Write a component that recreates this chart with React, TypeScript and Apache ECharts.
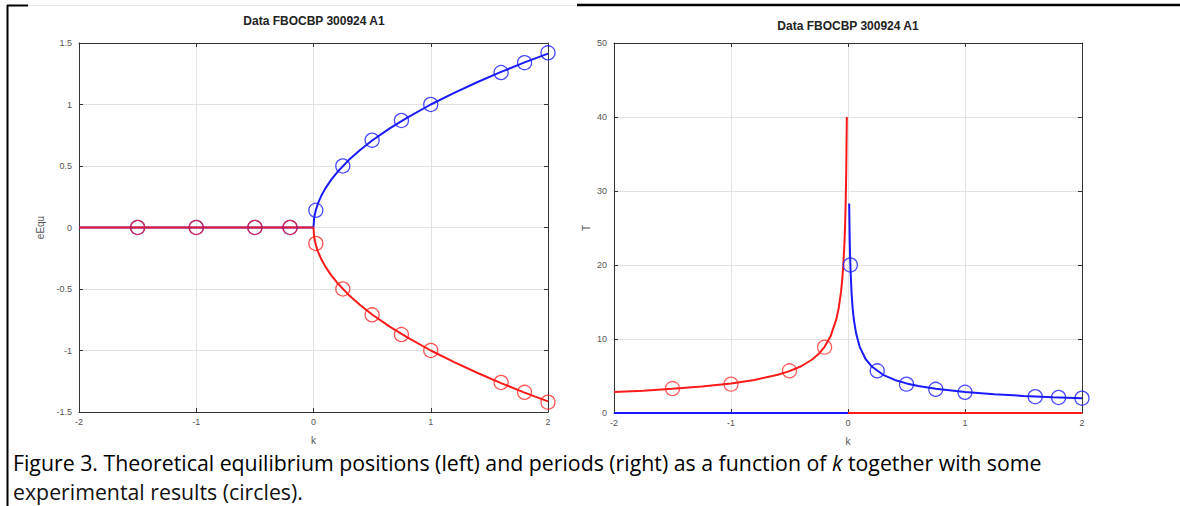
import React, { useEffect, useRef } from "react";
import * as echarts from "echarts";

// Equilibrium positions: theory curves (upper / lower branch for k >= 0)
const eqK = [0, 0.005, 0.01, 0.02, 0.04, 0.07, 0.1, 0.15, 0.2, 0.3, 0.4, 0.5, 0.65, 0.8, 1, 1.2, 1.4, 1.6, 1.8, 2];
const eqUpper = [0, 0.071, 0.1, 0.141, 0.2, 0.265, 0.316, 0.387, 0.447, 0.548, 0.632, 0.707, 0.806, 0.894, 1.0, 1.095, 1.183, 1.265, 1.342, 1.414];
const eqLower = [0, -0.071, -0.1, -0.141, -0.2, -0.265, -0.316, -0.387, -0.447, -0.548, -0.632, -0.707, -0.806, -0.894, -1.0, -1.095, -1.183, -1.265, -1.342, -1.414];
// Zero branches
const zeroNegK = [-2, 0];
const zeroNegVal = [0, 0];
const zeroPosK = [0, 2];
const zeroPosVal = [0, 0];

// Equilibrium positions: measured
const expK = [-1.5, -1, -0.5, -0.2, 0.02, 0.25, 0.5, 0.75, 1, 1.6, 1.8, 2];
const expUpper = [0, 0, 0, 0, 0.14, 0.5, 0.71, 0.87, 1.0, 1.26, 1.34, 1.42];
const expLower = [0, 0, 0, 0, -0.13, -0.5, -0.71, -0.87, -1.0, -1.26, -1.34, -1.42];

// Periods: theory curves
const periodNegK = [-2, -1.75, -1.5, -1.25, -1, -0.8, -0.6, -0.5, -0.4, -0.3, -0.25, -0.2, -0.15, -0.1, -0.08, -0.06, -0.05, -0.04, -0.03, -0.025, -0.02, -0.015, -0.01];
const periodNegT = [2.83, 3.02, 3.27, 3.58, 4.0, 4.47, 5.16, 5.66, 6.32, 7.3, 8.0, 8.94, 10.33, 12.65, 14.14, 16.33, 17.89, 20.0, 23.09, 25.3, 28.28, 32.66, 40.0];
const periodPosK = [0.01, 0.015, 0.02, 0.03, 0.04, 0.05, 0.07, 0.1, 0.15, 0.2, 0.3, 0.4, 0.5, 0.6, 0.75, 1, 1.25, 1.5, 1.75, 2];
const periodPosT = [28.3, 23.1, 20.0, 16.3, 14.1, 12.6, 10.7, 8.94, 7.3, 6.32, 5.16, 4.47, 4.0, 3.65, 3.27, 2.83, 2.53, 2.31, 2.14, 2.0];

// Periods: measured
const expPeriodNegK = [-1.5, -1, -0.5, -0.2];
const expPeriodNegT = [3.3, 3.9, 5.7, 8.9];
const expPeriodPosK = [0.02, 0.25, 0.5, 0.75, 1, 1.6, 1.8, 2];
const expPeriodPosT = [20, 5.7, 3.9, 3.2, 2.8, 2.2, 2.1, 2.0];

const titleText = "Data FBOCBP 300924 A1";
const captionLine1a = "Figure 3. Theoretical equilibrium positions (left) and periods (right) as a function of ";
const captionLine1b = "k";
const captionLine1c = " together with some";
const captionLine2 = "experimental results (circles).";

const RED = "#ff1a1a";
const BLUE = "#1a1aff";
const FONT = "Liberation Sans, Arial, sans-serif";
const CAPTION_FONT = "Open Sans, sans-serif";
const CAPTION_SIZE = 21.3;

const pairs = (xs: number[], ys: number[]) => xs.map((x, i) => [x, ys[i]]);

function lineSeries(xi: number, yi: number, data: number[][], color: string, opacity = 1) {
  return {
    type: "line",
    xAxisIndex: xi,
    yAxisIndex: yi,
    data,
    showSymbol: false,
    symbol: "none",
    clip: false,
    lineStyle: { color, width: 2, opacity },
    z: 3,
  };
}

function circleSeries(xi: number, yi: number, data: number[][], color: string, opacity = 0.8) {
  return {
    type: "scatter",
    xAxisIndex: xi,
    yAxisIndex: yi,
    data,
    symbol: "circle",
    symbolSize: 14,
    clip: false,
    itemStyle: { color: "transparent", borderColor: color, borderWidth: 1.3, opacity },
    z: 4,
  };
}

function xAxes(gridIndex: number) {
  const common = {
    type: "value",
    gridIndex,
    min: -2,
    max: 2,
    interval: 1,
    axisLine: { show: true, onZero: false, lineStyle: { color: "#333", width: 1 } },
    axisTick: { show: true, inside: true, length: 4, lineStyle: { color: "#333" } },
  };
  return [
    {
      ...common,
      position: "bottom",
      name: "k",
      nameLocation: "middle",
      nameGap: 23,
      nameTextStyle: { fontSize: 10, color: "#555", fontFamily: FONT },
      axisLabel: { fontSize: 9, color: "#555", margin: 5, fontFamily: FONT },
      splitLine: { show: true, lineStyle: { color: "#e2e2e2", width: 1 } },
    },
    {
      ...common,
      position: "top",
      axisLabel: { show: false },
      splitLine: { show: false },
    },
  ];
}

function yAxes(gridIndex: number, min: number, max: number, interval: number, name: string, nameGap: number) {
  const common = {
    type: "value",
    gridIndex,
    min,
    max,
    interval,
    axisLine: { show: true, onZero: false, lineStyle: { color: "#333", width: 1 } },
    axisTick: { show: true, inside: true, length: 4, lineStyle: { color: "#333" } },
  };
  return [
    {
      ...common,
      position: "left",
      name,
      nameLocation: "middle",
      nameGap,
      nameRotate: 90,
      nameTextStyle: { fontSize: 10, color: "#555", fontFamily: FONT },
      axisLabel: { fontSize: 9, color: "#555", margin: 7, fontFamily: FONT },
      splitLine: { show: true, lineStyle: { color: "#e2e2e2", width: 1 } },
    },
    {
      ...common,
      position: "right",
      axisLabel: { show: false },
      splitLine: { show: false },
    },
  ];
}

export default function App() {
  const ref = useRef<HTMLDivElement>(null);

  useEffect(() => {
    if (!ref.current) return;
    const chart = echarts.init(ref.current, null, { renderer: "svg" });

    const option = {
      animation: false,
      backgroundColor: "#ffffff",
      grid: [
        { left: 79, right: 632, top: 43, bottom: 94, containLabel: false },
        { left: 614, right: 98, top: 43, bottom: 93, containLabel: false },
      ],
      xAxis: [...xAxes(0), ...xAxes(1)],
      yAxis: [...yAxes(0, -1.5, 1.5, 0.5, "eEqu", 34), ...yAxes(1, 0, 50, 10, "T", 23)],
      series: [
        // left: equilibrium positions
        lineSeries(0, 0, pairs(zeroNegK, zeroNegVal), BLUE),
        lineSeries(0, 0, pairs(eqK, eqUpper), BLUE),
        lineSeries(0, 0, pairs(zeroNegK, zeroNegVal), RED, 0.92),
        lineSeries(0, 0, pairs(eqK, eqLower), RED),
        circleSeries(0, 0, pairs(expK, expUpper), BLUE),
        circleSeries(0, 0, pairs(expK, expLower), RED, 0.75),
        // right: periods
        lineSeries(2, 2, pairs(zeroNegK, zeroNegVal), BLUE),
        lineSeries(2, 2, pairs(periodPosK, periodPosT), BLUE),
        lineSeries(2, 2, pairs(zeroPosK, zeroPosVal), RED),
        lineSeries(2, 2, pairs(periodNegK, periodNegT), RED),
        circleSeries(2, 2, pairs(expPeriodNegK, expPeriodNegT), RED, 0.7),
        circleSeries(2, 2, pairs(expPeriodPosK, expPeriodPosT), BLUE),
      ],
      graphic: [
        // page frame lines
        { type: "line", shape: { x1: 7.5, y1: 5, x2: 7.5, y2: 506 }, style: { stroke: "#000", lineWidth: 2 } },
        { type: "line", shape: { x1: 7, y1: 5.5, x2: 28, y2: 5.5 }, style: { stroke: "#000", lineWidth: 2 } },
        { type: "line", shape: { x1: 28, y1: 5.5, x2: 577, y2: 5.5 }, style: { stroke: "#e6e6e6", lineWidth: 1 } },
        { type: "line", shape: { x1: 577, y1: 5, x2: 1180, y2: 5 }, style: { stroke: "#000", lineWidth: 2.5 } },
        // chart titles
        {
          type: "text",
          x: 314,
          y: 21,
          style: { text: titleText, textAlign: "center", textVerticalAlign: "middle", font: `bold 12px ${FONT}`, fill: "#222" },
        },
        {
          type: "text",
          x: 848,
          y: 26,
          style: { text: titleText, textAlign: "center", textVerticalAlign: "middle", font: `bold 12px ${FONT}`, fill: "#222" },
        },
        // caption, first line (with italic k)
        {
          type: "text",
          x: 13,
          y: 462.2,
          style: {
            text: `{n|${captionLine1a}}{i|${captionLine1b}}{n|${captionLine1c}}`,
            textVerticalAlign: "middle",
            rich: {
              n: { fontFamily: CAPTION_FONT, fontSize: CAPTION_SIZE, color: "#111" },
              i: { fontFamily: CAPTION_FONT, fontSize: CAPTION_SIZE, fontStyle: "italic", color: "#111" },
            },
          },
        },
        // caption, second line
        {
          type: "text",
          x: 13,
          y: 491.3,
          style: {
            text: captionLine2,
            textVerticalAlign: "middle",
            font: `${CAPTION_SIZE}px ${CAPTION_FONT}`,
            fill: "#111",
          },
        },
      ],
    };

    chart.setOption(option as any);
    return () => chart.dispose();
  }, []);

  return (
    <div
      ref={ref}
      style={{ position: "absolute", left: 0, top: 0, width: 1180, height: 506, background: "#fff" }}
    />
  );
}
